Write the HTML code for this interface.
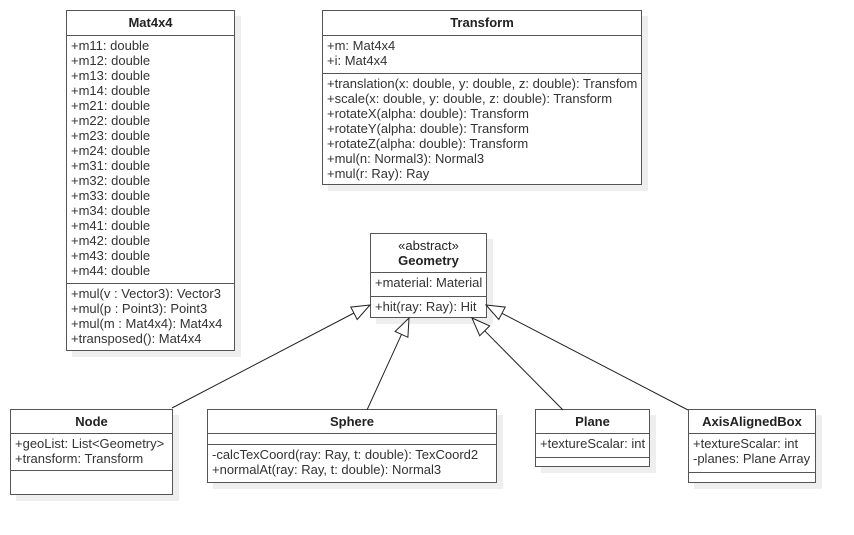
<!DOCTYPE html>
<html><head><style>
body{margin:0;width:854px;height:535px;background:#fff;position:relative;font-family:"Liberation Sans",Arial,sans-serif;font-size:13px;color:#333;overflow:hidden}
.b{position:absolute;border:1.5px solid #555;background:#fff;box-shadow:6px 6px 0 #eee;box-sizing:border-box}
.h{text-align:center;font-weight:bold;color:#222;border-bottom:1.5px solid #555;box-sizing:border-box}
.s{border-bottom:1.5px solid #555;padding:2px 4px;line-height:15px;box-sizing:border-box;white-space:nowrap}
.s:last-child{border-bottom:none}
svg{z-index:5}
</style></head><body>
<svg width="854" height="535" style="position:absolute;left:0;top:0">
<g stroke="#222" stroke-width="1" fill="none">
<line x1="172" y1="408" x2="354" y2="313"/>
<line x1="367" y1="410" x2="401.5" y2="334.4"/>
<line x1="563" y1="410" x2="484.7" y2="330.8"/>
<line x1="688" y1="410" x2="502" y2="313.3"/>
</g>
<g stroke="#222" stroke-width="1" fill="#fff">
<polygon points="370,305 357.2,319.5 350.8,307.1"/>
<polygon points="409,318 407.9,337.3 395.1,331.5"/>
<polygon points="472,318 489.7,325.9 479.7,335.7"/>
<polygon points="486,305 505.2,307.1 498.8,319.5"/>
</g>
</svg>

<div class="b" style="left:66px;top:10px;width:169px;height:341px">
<div class="h" style="height:25px;line-height:23px">Mat4x4</div>
<div class="s" style="height:248px">+m11: double<br>+m12: double<br>+m13: double<br>+m14: double<br>+m21: double<br>+m22: double<br>+m23: double<br>+m24: double<br>+m31: double<br>+m32: double<br>+m33: double<br>+m34: double<br>+m41: double<br>+m42: double<br>+m43: double<br>+m44: double</div>
<div class="s">+mul(v : Vector3): Vector3<br>+mul(p : Point3): Point3<br>+mul(m : Mat4x4): Mat4x4<br>+transposed(): Mat4x4</div>
</div>

<div class="b" style="left:322px;top:10px;width:320px;height:175px">
<div class="h" style="height:25px;line-height:23px">Transform</div>
<div class="s" style="height:38px">+m: Mat4x4<br>+i: Mat4x4</div>
<div class="s">+translation(x: double, y: double, z: double): Transfom<br>+scale(x: double, y: double, z: double): Transform<br>+rotateX(alpha: double): Transform<br>+rotateY(alpha: double): Transform<br>+rotateZ(alpha: double): Transform<br>+mul(n: Normal3): Normal3<br>+mul(r: Ray): Ray</div>
</div>

<div class="b" style="left:370px;top:233px;width:117px;height:85px">
<div class="h" style="height:39px;line-height:15px;padding-top:4px"><span style="font-weight:normal">«abstract»</span><br>Geometry</div>
<div class="s" style="height:24px">+material: Material</div>
<div class="s">+hit(ray: Ray): Hit</div>
</div>

<div class="b" style="left:10px;top:409px;width:163px;height:86px">
<div class="h" style="height:24px;line-height:23px">Node</div>
<div class="s" style="height:37px">+geoList: List&lt;Geometry&gt;<br>+transform: Transform</div>
<div class="s"></div>
</div>

<div class="b" style="left:207px;top:409px;width:290px;height:74px">
<div class="h" style="height:24px;line-height:23px">Sphere</div>
<div class="s" style="height:11px;padding:0"></div>
<div class="s">-calcTexCoord(ray: Ray, t: double): TexCoord2<br>+normalAt(ray: Ray, t: double): Normal3</div>
</div>

<div class="b" style="left:535px;top:409px;width:115px;height:58px">
<div class="h" style="height:24px;line-height:23px">Plane</div>
<div class="s" style="height:24px">+textureScalar: int</div>
<div class="s"></div>
</div>

<div class="b" style="left:688px;top:409px;width:128px;height:74px">
<div class="h" style="height:24px;line-height:23px">AxisAlignedBox</div>
<div class="s" style="height:39px">+textureScalar: int<br>-planes: Plane Array</div>
<div class="s"></div>
</div>
</body></html>
